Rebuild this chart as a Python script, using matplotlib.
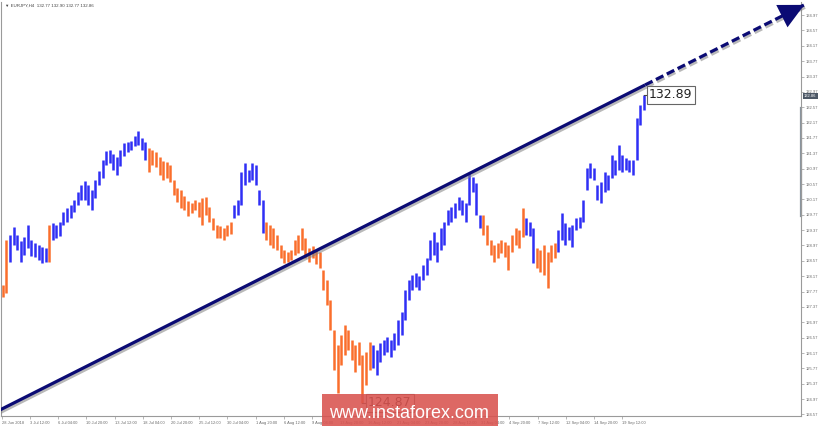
import matplotlib
matplotlib.use("Agg")
import matplotlib.pyplot as plt
import matplotlib.patheffects as pe
import matplotlib.transforms as mtransforms

# EURJPY H4, one entry per pair of H4 bars (high / low)
highs = [
    127.94, 129.11, 129.24, 129.45, 129.24, 129.08, 129.19, 129.50, 129.11, 129.03,
    128.98, 128.93, 128.90, 129.50, 129.55, 129.50, 129.58, 129.84, 129.94, 130.02,
    130.15, 130.36, 130.54, 130.65, 130.54, 130.41, 130.67, 130.91, 131.19, 131.43,
    131.45, 131.35, 131.27, 131.45, 131.64, 131.66, 131.69, 131.82, 131.95, 131.77,
    131.66, 131.51, 131.45, 131.40, 131.27, 131.17, 131.14, 131.06, 130.67, 130.47,
    130.41, 130.26, 130.13, 130.08, 130.15, 130.10, 130.21, 130.23, 129.97, 129.68,
    129.50, 129.47, 129.42, 129.50, 129.58, 130.02, 130.15, 130.88, 131.12, 130.93,
    131.12, 131.06, 130.41, 130.15, 129.58, 129.50, 129.42, 129.24, 128.98, 128.85,
    128.80, 128.85, 129.11, 129.24, 129.42, 129.16, 128.90, 128.95, 128.85, 128.80,
    128.33, 128.07, 127.55, 126.77, 126.38, 126.64, 126.90, 126.77, 126.51, 126.38,
    126.45, 126.12, 126.19, 126.45, 126.38, 126.25, 126.43, 126.51, 126.59, 126.51,
    126.69, 127.03, 127.24, 127.81, 128.07, 128.20, 128.25, 128.17, 128.46, 128.64,
    129.11, 129.32, 129.06, 129.42, 129.58, 129.89, 129.97, 130.08, 130.23, 130.15,
    130.08, 130.86, 130.75, 130.60, 129.76, 129.76, 129.50, 129.11, 128.98, 129.03,
    129.11, 129.06, 128.98, 129.24, 129.42, 129.37, 129.94, 129.68, 129.58, 129.42,
    128.90, 128.85, 128.98, 128.80, 128.98, 129.03, 129.37, 129.81, 129.55, 129.45,
    129.50, 129.68, 129.71, 130.15, 130.99, 131.12, 130.99, 130.54, 130.62, 130.88,
    130.80, 131.32, 131.19, 131.58, 131.32, 131.25, 131.19, 131.19, 132.29, 132.63,
    132.89,
]
lows = [
    127.63, 127.73, 128.54, 128.98, 128.85, 128.54, 128.72, 128.90, 128.69, 128.67,
    128.59, 128.51, 128.54, 128.54, 129.11, 129.16, 129.21, 129.50, 129.58, 129.68,
    129.84, 130.02, 130.15, 130.15, 130.02, 129.89, 130.21, 130.54, 130.73, 131.06,
    131.12, 130.93, 130.80, 131.04, 131.30, 131.40, 131.45, 131.56, 131.58, 131.45,
    131.19, 130.88, 131.06, 131.01, 130.80, 130.67, 130.73, 130.62, 130.28, 130.10,
    129.94, 129.89, 129.74, 129.81, 129.89, 129.71, 129.50, 129.76, 129.58, 129.37,
    129.16, 129.16, 129.11, 129.21, 129.27, 129.68, 129.76, 130.02, 130.54, 130.62,
    130.67, 130.54, 130.02, 129.29, 129.11, 128.98, 128.90, 128.85, 128.64, 128.51,
    128.54, 128.59, 128.72, 128.77, 128.85, 128.64, 128.54, 128.64, 128.49, 128.38,
    127.81, 127.42, 126.77, 125.73, 125.13, 125.86, 126.12, 126.25, 125.99, 125.67,
    125.86, 124.87, 125.33, 125.73, 125.78, 125.60, 125.93, 126.12, 126.19, 126.06,
    126.25, 126.38, 126.64, 127.03, 127.55, 127.81, 127.89, 127.81, 128.07, 128.20,
    128.59, 128.72, 128.54, 128.85, 128.98, 129.50, 129.58, 129.68, 129.89, 129.76,
    129.58, 130.02, 130.36, 129.76, 129.42, 129.24, 128.98, 128.72, 128.54, 128.64,
    128.77, 128.67, 128.33, 128.80, 128.98, 128.90, 129.19, 129.24, 129.21, 128.51,
    128.38, 128.28, 128.20, 127.86, 128.54, 128.64, 128.80, 129.11, 128.98, 129.11,
    128.93, 129.37, 129.42, 129.58, 130.41, 130.73, 130.67, 130.15, 130.08, 130.36,
    130.41, 130.73, 130.80, 130.93, 130.88, 130.93, 130.88, 130.80, 131.19, 132.11,
    132.50,
]
# wave colouring: (number of bars, direction)
wave_runs = [(2, "down"), (11, "up"), (1, "down"), (27, "up"), (24, "down"),
             (9, "up"), (30, "down"), (31, "up"), (12, "down"), (3, "up"),
             (6, "down"), (25, "up")]

date_labels = ["28 Jun 2018", "3 Jul 12:00", "6 Jul 04:00", "10 Jul 20:00",
               "13 Jul 12:00", "18 Jul 04:00", "20 Jul 20:00", "25 Jul 12:00",
               "30 Jul 04:00", "1 Aug 20:00", "6 Aug 12:00", "9 Aug 04:00",
               "13 Aug 20:00", "16 Aug 12:00", "21 Aug 04:00", "23 Aug 20:00",
               "28 Aug 12:00", "31 Aug 04:00", "4 Sep 20:00", "7 Sep 12:00",
               "12 Sep 04:00", "14 Sep 20:00", "19 Sep 12:00"]
price_ticks = [124.57 + 0.4 * k for k in range(27)]

# trend line anchors (bar, price): solid part then dashed projection
trend_bars = [-1.0, 180.4, 225.0]
trend_prices = [124.68, 133.15, 135.23]

last_price = 132.86
header = "\u25bc EURJPY,H4  132.77 132.90 132.77 132.86"

UP = "#2f2ff5"
DOWN = "#fa6e2c"
NAVY = "#0b0b74"
GREY = "#6a6a6a"
SMALL = ["Liberation Sans", "DejaVu Sans"]

fig = plt.figure(figsize=(8.2, 4.26), dpi=100)
ax = fig.add_axes([1.5 / 820, 10 / 426, 799.5 / 820, 414 / 426])

colors = []
for n, kind in wave_runs:
    colors += [UP if kind == "up" else DOWN] * n
xs = list(range(len(highs)))
ax.vlines(xs, lows, highs, colors=colors, linewidth=1.8)

ax.set_xlim(-0.4, 224.2)
ax.set_ylim(124.53, 135.31)

# trend line with shadow
shadow = [pe.SimpleLineShadow(offset=(0.8, -1.6), shadow_color="#808080", alpha=0.55), pe.Normal()]
ax.plot(trend_bars[:2], trend_prices[:2], color=NAVY, lw=2.3,
        solid_capstyle="butt", path_effects=shadow, zorder=5)
ax.plot(trend_bars[1:], trend_prices[1:], color=NAVY, lw=2.3,
        linestyle=(0, (2.6, 1.2)), path_effects=shadow, zorder=5, clip_on=False)
ax.annotate("", xy=(trend_bars[2] + 0.8, trend_prices[2] + 0.8 * 0.0467),
            xytext=(trend_bars[2] - 4, trend_prices[2] - 4 * 0.0467),
            arrowprops=dict(arrowstyle="-|>,head_length=1.2,head_width=0.6",
                            color=NAVY, lw=0, mutation_scale=15),
            annotation_clip=False, zorder=6)

# price labels at extremes
i_hi = len(highs) - 1
i_lo = lows.index(min(lows))
for i, p in [(i_hi, highs[i_hi]), (i_lo, lows[i_lo])]:
    ax.plot([i, i + 1.4], [p, p], color="#444444", lw=0.8, zorder=6)
    ax.text(i + 1.5, p, f"{p:.2f}", fontsize=9, va="center", ha="left",
            color="#222222", zorder=7,
            bbox=dict(boxstyle="square,pad=0.18", fc="white", ec="#666666", lw=0.8))

# axes styling
ax.spines["top"].set_visible(False)
for s in ["left", "bottom", "right"]:
    ax.spines[s].set_color("#9a9a9a")
    ax.spines[s].set_linewidth(0.8)

ax.yaxis.tick_right()
ax.set_yticks(price_ticks)
ax.set_yticklabels([f"{p:.2f}" for p in price_ticks], family=SMALL)
ax.tick_params(axis="y", length=2.5, width=0.5, colors="#9a9a9a",
               labelsize=3.0, labelcolor=GREY, pad=1.2)

ax.set_xticks([k * 7.92 - 0.3 for k in range(len(date_labels))])
ax.set_xticklabels(date_labels, family=SMALL)
ax.tick_params(axis="x", length=2.5, width=0.5, colors="#9a9a9a",
               labelsize=2.9, labelcolor=GREY, pad=0.8)
plt.setp(ax.get_xticklabels(), ha="left")

# current price marker on the scale
trans = mtransforms.blended_transform_factory(ax.transAxes, ax.transData)
ax.text(1.004, last_price, f"{last_price:.2f}", transform=trans, fontsize=3.0,
        family=SMALL, color="white", va="center", ha="left",
        bbox=dict(boxstyle="square,pad=0.25", fc="#4d5866", ec="none"))
ax.plot([1, 1], [132.55, 129.75], transform=trans, color="#8a949e",
        lw=1.6, clip_on=False)

fig.text(5 / 820, 1 - 6 / 426, header, fontsize=3.2, family=SMALL,
         color="#444444", va="center", ha="left")

# watermark
fig.patches.append(plt.Rectangle((322 / 820, 0), 176 / 820, 32 / 426,
                                 transform=fig.transFigure, fc="#d9534f",
                                 alpha=0.88, ec="none", zorder=10))
fig.text(409 / 820, 13 / 426, "www.instaforex.com", fontsize=13,
         family="Liberation Sans", color="white", ha="center", va="center",
         zorder=11)

fig.savefig("out.png", dpi=100, facecolor="white")
